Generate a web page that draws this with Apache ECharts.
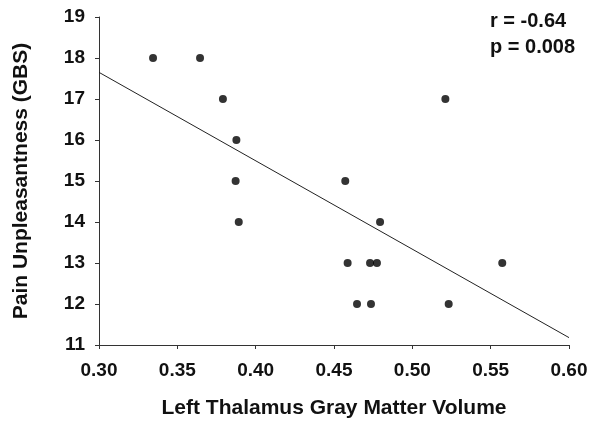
<!DOCTYPE html>
<html>
<head>
<meta charset="utf-8">
<script src="https://cdn.jsdelivr.net/npm/echarts@6/dist/echarts.min.js"></script>
<style>
html,body{margin:0;padding:0;background:#fff;}
#c{width:600px;height:426px;}
</style>
</head>
<body>
<div id="c"></div>
<script>
// Data
const volume = [0.3345, 0.3645, 0.3791, 0.3877, 0.3872, 0.3892, 0.5211, 0.4572, 0.4794, 0.4587, 0.4730, 0.4774, 0.5574, 0.4647, 0.4736, 0.5232];
const pain   = [18, 18, 17, 16, 15, 14, 17, 15, 14, 13, 13, 13, 13, 12, 12, 12];
const fitX = [0.30, 0.60];
const fitY = [17.65, 11.18];
const statLines = ['r = -0.64', 'p = 0.008'];
const xTitle = 'Left Thalamus Gray Matter Volume';
const yTitle = 'Pain Unpleasantness (GBS)';

const FONT = "'Liberation Sans', Arial, sans-serif";
const chart = echarts.init(document.getElementById('c'), null, {renderer: 'canvas'});
chart.setOption({
  animation: false,
  backgroundColor: '#fff',
  title: {
    text: statLines.join('\n'),
    left: 490, top: 8, padding: 0,
    textStyle: {fontFamily: FONT, fontWeight: 'bold', fontSize: 20, color: '#111', lineHeight: 26}
  },
  grid: {left: 99, right: 31, top: 17, bottom: 81, containLabel: false},
  xAxis: {
    type: 'value', min: 0.30, max: 0.60, interval: 0.05,
    name: xTitle, nameLocation: 'middle', nameGap: 53,
    nameTextStyle: {fontFamily: FONT, fontWeight: 'bold', fontSize: 21, color: '#111'},
    axisLine: {show: true, lineStyle: {color: '#333', width: 1}},
    axisTick: {show: true, length: 4, lineStyle: {color: '#333'}},
    splitLine: {show: false},
    axisLabel: {margin: 16, fontFamily: FONT, fontWeight: 'bold', fontSize: 19, color: '#111',
      formatter: v => v.toFixed(2)}
  },
  yAxis: {
    type: 'value', min: 11, max: 19, interval: 1,
    name: yTitle, nameLocation: 'middle', nameGap: 67, nameRotate: 90,
    nameTextStyle: {fontFamily: FONT, fontWeight: 'bold', fontSize: 21, color: '#111'},
    axisLine: {show: true, lineStyle: {color: '#333', width: 1}},
    axisTick: {show: true, length: 4, lineStyle: {color: '#333'}},
    splitLine: {show: false},
    axisLabel: {margin: 14, fontFamily: FONT, fontWeight: 'bold', fontSize: 19, color: '#111'}
  },
  series: [
    {
      type: 'line',
      data: fitX.map((x, i) => [x, fitY[i]]),
      showSymbol: false, symbol: 'none',
      lineStyle: {color: '#222', width: 1},
      z: 1
    },
    {
      type: 'scatter',
      data: volume.map((x, i) => [x, pain[i]]),
      symbol: 'circle', symbolSize: 8,
      itemStyle: {color: '#000'},
      z: 2
    }
  ]
});
</script>
</body>
</html>
